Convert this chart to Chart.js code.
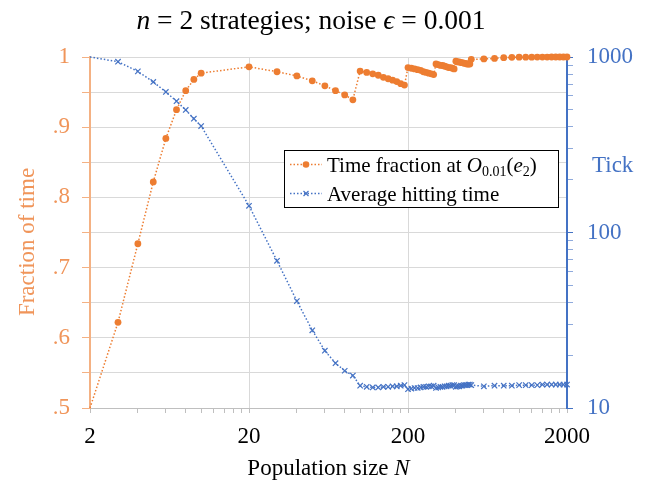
<!DOCTYPE html>
<html>
<head>
<meta charset="utf-8">
<script src="https://cdn.jsdelivr.net/npm/chart.js@4"></script>
<style>
  html, body { margin: 0; padding: 0; background: #ffffff; }
  #wrap { width: 663px; height: 481px; }
</style>
</head>
<body>
<div id="wrap"><canvas id="c" width="663" height="481"></canvas></div>
<script>
// ---------------- DATA ----------------
const populationN = [2,3,4,5,6,7,8,9,10,
  20,30,40,50,60,70,80,90,
  100,110,120,130,140,150,160,170,180,190,
  200,210,220,230,240,250,260,270,280,290,
  300,310,320,330,340,350,360,370,380,390,
  400,410,420,430,440,450,460,470,480,490,
  500,600,700,800,900,1000,1100,1200,1300,1400,1500,1600,1700,1800,1900,2000];

const timeFraction = [0.500,0.622,0.734,0.822,0.884,0.925,0.952,0.968,0.977,
  0.986,0.979,0.973,0.966,0.959,0.952,0.946,0.939,
  0.980,0.978,0.976,0.974,0.971,0.969,0.967,0.965,0.962,0.960,
  0.985,0.984,0.983,0.982,0.981,0.979,0.978,0.977,0.976,0.975,
  0.990,0.989,0.988,0.988,0.987,0.986,0.985,0.985,0.984,0.983,
  0.994,0.993,0.993,0.992,0.992,0.991,0.991,0.990,0.990,0.990,
  0.9967,0.9972,0.998,0.999,0.9995,0.9997,0.9998,0.9998,0.9999,0.9999,0.9999,1,1,1,1,1];

const hittingTime = [1000,940,828,721,632,560,499,445,404,
  142,69,40.7,27.7,21.2,18.0,16.3,15.3,
  13.4,13.2,13.1,13.1,13.2,13.2,13.3,13.3,13.4,13.5,
  12.8,12.9,13.0,13.0,13.1,13.2,13.2,13.3,13.3,13.4,
  13.0,13.1,13.2,13.2,13.3,13.3,13.4,13.4,13.5,13.5,
  13.2,13.3,13.3,13.4,13.4,13.5,13.5,13.5,13.6,13.6,
  13.5,13.3,13.4,13.4,13.4,13.5,13.5,13.5,13.5,13.6,13.6,13.6,13.6,13.6,13.6,13.6];

const xTickValues = [2,4,6,8,10,12,14,16,18,20,40,60,80,100,120,140,160,180,200,400,600,800,1000,1200,1400,1600,1800,2000];
const xTickLabels = [2,20,200,2000];
const leftTickValues = [0.5,0.6,0.7,0.8,0.9,1];
const leftTickLabels = ['.5','.6','.7','.8','.9','1'];
const rightTickValues = [10,20,30,40,50,60,70,80,90,100,200,300,400,500,600,700,800,900,1000];
const rightTickLabels = [10,100,1000];

const seriesNames = ['Time fraction at ', 'Average hitting time'];
const chartTitle = ['n', ' = 2 strategies; noise ', '\u03F5', ' = 0.001'];
const xTitle = ['Population size ', 'N'];
const leftTitle = 'Fraction of time';
const rightTitle = 'Tick';

// ---------------- STYLE ----------------
const ORANGE = '#ed7d31';
const ORANGE_TXT = '#f0955a';
const ORANGE_AX = '#f4b183';
const BLUE = '#4472c4';
const SERIF = '"Liberation Serif", "Times New Roman", serif';

function runs(ctx, list, x, y, align) {
  let total = 0;
  list.forEach(r => { ctx.font = r.font; r.w = ctx.measureText(r.t).width; total += r.w; });
  let cx = align === 'center' ? x - total / 2 : x;
  ctx.textAlign = 'left';
  ctx.textBaseline = 'alphabetic';
  list.forEach(r => { ctx.font = r.font; ctx.fillStyle = r.color || '#000'; ctx.fillText(r.t, cx, y + (r.dy || 0)); cx += r.w; });
  return total;
}

const textPlugin = {
  id: 'texts',
  afterDraw(chart) {
    const ctx = chart.ctx;
    const a = chart.chartArea;
    ctx.save();
    // Title
    runs(ctx, [
      {t: chartTitle[0], font: 'italic 27.5px ' + SERIF},
      {t: chartTitle[1], font: '27.5px ' + SERIF},
      {t: chartTitle[2], font: 'italic 27.5px ' + SERIF},
      {t: chartTitle[3], font: '27.5px ' + SERIF}
    ], a.left + 221, 29, 'center');
    // X title
    runs(ctx, [
      {t: xTitle[0], font: '23px ' + SERIF},
      {t: xTitle[1], font: 'italic 23px ' + SERIF}
    ], (a.left + a.right) / 2, 475, 'center');
    // Left title (rotated)
    ctx.save();
    ctx.translate(34, a.top + 185);
    ctx.rotate(-Math.PI / 2);
    ctx.font = '23px ' + SERIF;
    ctx.fillStyle = ORANGE_TXT;
    ctx.textAlign = 'center';
    ctx.textBaseline = 'alphabetic';
    ctx.fillText(leftTitle, 0, 0);
    ctx.restore();
    // Right title
    ctx.font = '23px ' + SERIF;
    ctx.fillStyle = BLUE;
    ctx.textAlign = 'left';
    ctx.textBaseline = 'alphabetic';
    ctx.fillText(rightTitle, a.right + 25, a.top + 115);

    // Legend
    const lx = a.left + 194, ly = a.top + 93, lw = 274, lh = 57;
    ctx.fillStyle = '#ffffff';
    ctx.fillRect(lx, ly, lw, lh);
    ctx.strokeStyle = '#000000';
    ctx.lineWidth = 1;
    ctx.strokeRect(lx + 0.5, ly + 0.5, lw, lh);
    const rowY = [ly + 14.5, ly + 43.5];
    const cols = [ORANGE, BLUE];
    for (let i = 0; i < 2; i++) {
      ctx.save();
      ctx.strokeStyle = cols[i];
      ctx.lineWidth = 1.5;
      ctx.setLineDash([1.5, 2]);
      ctx.beginPath();
      ctx.moveTo(lx + 6, rowY[i]);
      ctx.lineTo(lx + 38, rowY[i]);
      ctx.stroke();
      ctx.restore();
      const mx = lx + 22;
      if (i === 0) {
        ctx.fillStyle = ORANGE;
        ctx.beginPath();
        ctx.arc(mx, rowY[i], 3.3, 0, Math.PI * 2);
        ctx.fill();
      } else {
        ctx.strokeStyle = BLUE;
        ctx.lineWidth = 1.2;
        ctx.beginPath();
        ctx.moveTo(mx - 2.5, rowY[i] - 2.5); ctx.lineTo(mx + 2.5, rowY[i] + 2.5);
        ctx.moveTo(mx - 2.5, rowY[i] + 2.5); ctx.lineTo(mx + 2.5, rowY[i] - 2.5);
        ctx.stroke();
      }
    }
    runs(ctx, [
      {t: seriesNames[0], font: '21px ' + SERIF},
      {t: 'O', font: 'italic 21px ' + SERIF},
      {t: '0.01', font: '14px ' + SERIF, dy: 4},
      {t: '(', font: '21px ' + SERIF},
      {t: 'e', font: 'italic 21px ' + SERIF},
      {t: '2', font: '14px ' + SERIF, dy: 4},
      {t: ')', font: '21px ' + SERIF}
    ], lx + 43, rowY[0] + 7, 'left');
    runs(ctx, [{t: seriesNames[1], font: '21px ' + SERIF}], lx + 43, rowY[1] + 7, 'left');
    ctx.restore();
  }
};

const near = (v, arr) => arr.findIndex(t => Math.abs(t - v) < 1e-6 * Math.max(1, Math.abs(t)));

new Chart(document.getElementById('c'), {
  type: 'line',
  data: {
    datasets: [
      {
        label: seriesNames[0],
        data: populationN.map((n, i) => ({x: n, y: timeFraction[i]})),
        yAxisID: 'y',
        borderColor: ORANGE,
        backgroundColor: ORANGE,
        borderWidth: 1.5,
        borderDash: [1.5, 2],
        pointStyle: 'circle',
        pointRadius: ctx => ctx.dataIndex === 0 ? 0 : 3.4,
        pointHoverRadius: 3.4,
        pointBorderWidth: 0,
        pointBackgroundColor: ORANGE,
        tension: 0,
        clip: false
      },
      {
        label: seriesNames[1],
        data: populationN.map((n, i) => ({x: n, y: hittingTime[i]})),
        yAxisID: 'y1',
        borderColor: BLUE,
        backgroundColor: BLUE,
        borderWidth: 1.5,
        borderDash: [1.5, 2],
        pointStyle: 'crossRot',
        pointRadius: ctx => ctx.dataIndex === 0 ? 0 : 3.8,
        pointHoverRadius: 3.8,
        pointBorderWidth: 1.2,
        pointBorderColor: BLUE,
        tension: 0,
        clip: false
      }
    ]
  },
  options: {
    responsive: false,
    animation: false,
    devicePixelRatio: 1,
    layout: {padding: {top: 57, left: 0, right: 0, bottom: 0}},
    plugins: {legend: {display: false}, title: {display: false}, tooltip: {enabled: false}},
    scales: {
      x: {
        type: 'logarithmic',
        position: 'bottom',
        min: 2, max: 2000,
        afterBuildTicks: s => { s.ticks = xTickValues.map(v => ({value: v})); },
        afterFit: s => { s.height = 73; },
        ticks: {
          autoSkip: false, maxRotation: 0, minRotation: 0,
          padding: 10,
          color: '#000000',
          font: {family: SERIF, size: 23},
          callback: v => xTickLabels.includes(v) ? String(v) : ''
        },
        grid: {
          color: c => (c.tick && xTickLabels.includes(c.tick.value)) ? '#d9d9d9' : 'rgba(0,0,0,0)',
          tickColor: '#bfbfbf',
          tickLength: 5,
          lineWidth: 1
        },
        border: {color: '#bfbfbf', width: 1}
      },
      y: {
        type: 'linear',
        position: 'left',
        min: 0.5, max: 1,
        ticks: {
          stepSize: 0.05,
          padding: 12,
          color: ORANGE_TXT,
          font: {family: SERIF, size: 23},
          callback: v => { const k = near(v, leftTickValues); return k >= 0 ? leftTickLabels[k] : ''; }
        },
        afterFit: s => { s.width = 90; },
        grid: {color: '#d9d9d9', tickColor: ORANGE_AX, tickLength: 8, lineWidth: 1},
        border: {color: ORANGE_AX, width: 2}
      },
      y1: {
        type: 'logarithmic',
        position: 'right',
        min: 10, max: 1000,
        afterBuildTicks: s => { s.ticks = rightTickValues.map(v => ({value: v})); },
        afterFit: s => { s.width = 96; },
        ticks: {
          autoSkip: false,
          padding: 14,
          color: BLUE,
          font: {family: SERIF, size: 23},
          callback: v => rightTickLabels.includes(v) ? String(v) : ''
        },
        grid: {
          drawOnChartArea: false,
          tickColor: c => (c.tick && rightTickLabels.includes(c.tick.value)) ? BLUE : '#8faadc',
          tickLength: 6
        },
        border: {color: BLUE, width: 2}
      }
    }
  },
  plugins: [textPlugin]
});
</script>
</body>
</html>
